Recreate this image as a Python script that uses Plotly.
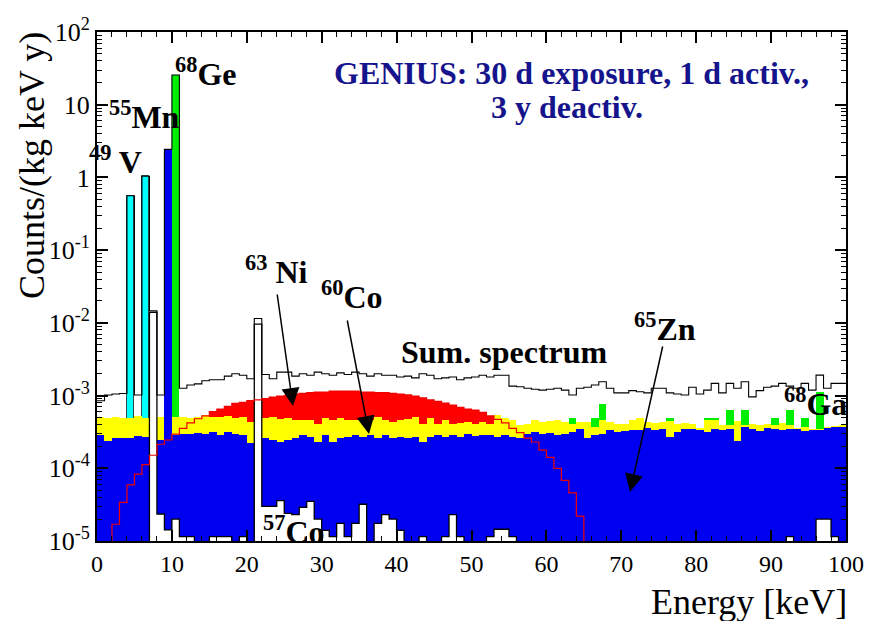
import plotly.graph_objects as go

# ---------------- data (1 keV bins, 0-100 keV) ----------------
bin_edges = list(range(0, 101))
bin_centers = [e + 0.5 for e in range(100)]

sum_spectrum = [
    8.5e-4, 1.02e-3, 1.05e-3, 1.07e-3, 0.56, 1.02e-3, 1.04, 1.47e-2, 1.02e-3, 2.43,
    25.6, 1.26e-3, 1.40e-3, 1.45e-3, 1.6e-3, 1.65e-3, 1.65e-3, 1.85e-3, 2.0e-3, 1.9e-3,
    1.7e-3, 1.15e-2, 1.95e-3, 1.7e-3, 2.1e-3, 2.1e-3, 1.85e-3, 2.0e-3, 1.9e-3, 2.1e-3,
    2.0e-3, 1.9e-3, 2.05e-3, 1.95e-3, 2.1e-3, 2.0e-3, 1.85e-3, 2.0e-3, 1.9e-3, 1.9e-3,
    1.8e-3, 1.85e-3, 1.75e-3, 2.0e-3, 1.9e-3, 1.7e-3, 1.75e-3, 1.8e-3, 1.65e-3, 1.75e-3,
    1.8e-3, 1.9e-3, 1.8e-3, 1.9e-3, 1.9e-3, 1.35e-3, 1.32e-3, 1.26e-3, 1.22e-3, 1.19e-3,
    1.22e-3, 1.26e-3, 1.19e-3, 1.02e-3, 1.26e-3, 1.30e-3, 1.40e-3, 1.55e-3, 1.26e-3, 1.09e-3,
    1.09e-3, 1.17e-3, 1.13e-3, 1.09e-3, 1.26e-3, 1.26e-3, 1.09e-3, 1.05e-3, 1.02e-3, 1.30e-3,
    1.05e-3, 1.19e-3, 1.47e-3, 1.09e-3, 1.47e-3, 1.26e-3, 1.55e-3, 9.6e-4, 1.17e-3, 1.30e-3,
    1.35e-3, 1.47e-3, 1.35e-3, 1.26e-3, 1.47e-3, 1.19e-3, 1.91e-3, 1.26e-3, 1.47e-3, 1.47e-3,
]

ge68 = [None] * 100
for b, v in [(10, 25.6), (63, 4.95e-4), (66, 4.95e-4), (67, 7.6e-4), (76, 4.95e-4),
             (81, 4.95e-4), (82, 4.95e-4), (84, 6.3e-4), (86, 6.3e-4), (90, 4.95e-4),
             (92, 6.3e-4), (94, 4.95e-4), (96, 1.13e-3)]:
    ge68[b] = v

v49_mn55 = [None] * 100
v49_mn55[4] = 0.56
v49_mn55[6] = 1.04

ni63 = [
    None, None, 1.7e-5, 3.4e-5, 5.9e-5, 8.3e-5, 1.12e-4, 1.51e-4, 2.14e-4, 2.45e-4,
    2.95e-4, 3.55e-4, 4.2e-4, 4.8e-4, 5.25e-4, 6.0e-4, 6.5e-4, 7.1e-4, 7.8e-4, 8.1e-4,
    8.5e-4, 8.7e-4, 9.1e-4, 9.5e-4, 9.8e-4, 1.0e-3, 1.05e-3, 1.07e-3, 1.10e-3, 1.12e-3,
    1.12e-3, 1.15e-3, 1.15e-3, 1.15e-3, 1.15e-3, 1.12e-3, 1.12e-3, 1.10e-3, 1.10e-3, 1.07e-3,
    1.05e-3, 1.02e-3, 9.8e-4, 9.3e-4, 8.7e-4, 8.3e-4, 7.9e-4, 7.4e-4, 6.9e-4, 6.5e-4,
    6.3e-4, 5.9e-4, 5.25e-4, 4.7e-4, 4.2e-4, 3.55e-4, 3.1e-4, 2.6e-4, 2.3e-4, 1.78e-4,
    1.41e-4, 1.0e-4, 6.8e-5, 4.6e-5, 2.2e-5, None, None, None, None, None,
] + [None] * 30

co60 = [
    5.1e-4, 4.95e-4, 5.1e-4, 4.95e-4, 4.85e-4, 5.2e-4, 4.85e-4, 5.0e-4, 5.1e-4, 5.0e-4,
    5.1e-4, 5.1e-4, 4.85e-4, 5.1e-4, 5.4e-4, 5.1e-4, 5.1e-4, 5.2e-4, 4.85e-4, 5.1e-4,
    4.4e-4, 5.0e-4, 4.85e-4, 5.1e-4, 4.7e-4, 4.85e-4, 4.6e-4, 4.6e-4, 4.6e-4, 4.1e-4,
    4.85e-4, 4.6e-4, 4.85e-4, 4.6e-4, 4.6e-4, 4.85e-4, 4.6e-4, 5.1e-4, 4.6e-4, 4.4e-4,
    4.6e-4, 4.7e-4, 5.1e-4, 4.1e-4, 4.85e-4, 4.05e-4, 4.6e-4, 4.1e-4, 4.2e-4, 4.4e-4,
    4.1e-4, 4.4e-4, 4.1e-4, 5.4e-4, 4.85e-4, 4.6e-4, 3.9e-4, 4.1e-4, 4.6e-4, 4.4e-4,
    4.5e-4, 4.6e-4, 4.4e-4, 4.1e-4, 4.4e-4, 4.4e-4, 3.7e-4, 4.6e-4, 4.4e-4, 4.1e-4,
    4.1e-4, 4.6e-4, 4.85e-4, 4.4e-4, 4.2e-4, 4.3e-4, 4.5e-4, 4.1e-4, 4.2e-4, 4.05e-4,
    3.6e-4, 4.6e-4, 4.6e-4, 3.9e-4, 3.9e-4, 4.5e-4, 4.0e-4, 4.1e-4, 3.9e-4, 4.1e-4,
    4.0e-4, 4.2e-4, 3.9e-4, 3.6e-4, 3.7e-4, 3.45e-4, 3.5e-4, 3.75e-4, 3.8e-4, 3.9e-4,
]

zn65 = [
    2.85e-4, 2.35e-4, 2.6e-4, 2.6e-4, 2.6e-4, 2.75e-4, 2.7e-4, 2.7e-4, 2.45e-4, 2.43,
    2.85e-4, 3.0e-4, 3.0e-4, 3.05e-4, 3.0e-4, 3.2e-4, 2.85e-4, 3.2e-4, 3.0e-4, 2.85e-4,
    2.25e-4, 2.6e-4, 2.6e-4, 2.45e-4, 2.3e-4, 2.45e-4, 2.6e-4, 2.85e-4, 2.7e-4, 2.3e-4,
    2.85e-4, 2.3e-4, 2.6e-4, 2.7e-4, 2.85e-4, 2.7e-4, 2.85e-4, 2.6e-4, 2.85e-4, 2.6e-4,
    2.7e-4, 2.6e-4, 2.7e-4, 2.3e-4, 2.7e-4, 2.85e-4, 2.7e-4, 2.85e-4, 2.7e-4, 3.0e-4,
    2.75e-4, 2.85e-4, 2.85e-4, 2.7e-4, 2.85e-4, 2.7e-4, 2.6e-4, 3.0e-4, 3.2e-4, 3.0e-4,
    3.1e-4, 2.85e-4, 3.0e-4, 3.2e-4, 3.5e-4, 2.6e-4, 2.85e-4, 3.0e-4, 3.35e-4, 3.2e-4,
    3.3e-4, 3.35e-4, 3.35e-4, 3.6e-4, 3.4e-4, 3.5e-4, 2.7e-4, 3.2e-4, 3.5e-4, 3.5e-4,
    3.35e-4, 3.2e-4, 3.5e-4, 3.4e-4, 3.5e-4, 2.4e-4, 3.75e-4, 3.5e-4, 3.3e-4, 3.6e-4,
    3.5e-4, 3.4e-4, 3.5e-4, 3.5e-4, 3.3e-4, 3.35e-4, 3.4e-4, 3.6e-4, 3.7e-4, 3.75e-4,
]

co57 = [
    None, None, None, None, None, None, None, 1.4e-2, 2.35e-5, 1.42e-5,
    2.0e-5, 1.15e-5, 1.15e-5, None, None, 1.15e-5, 1.15e-5, 1.15e-5, None, 1.15e-5,
    None, 9.6e-3, 3.0e-5, 3.0e-5, 3.6e-5, 2.4e-5, 2.3e-5, 2.9e-5, 3.5e-5, 2.0e-5,
    1.4e-5, 1.15e-5, 1.75e-5, 1.15e-5, 1.75e-5, 3.2e-5, None, 1.75e-5, 2.3e-5, 2.0e-5,
    1.4e-5, None, None, 1.15e-5, None, None, 1.15e-5, 2.3e-5, 1.15e-5, None,
    None, None, 1.15e-5, 1.45e-5, 1.45e-5, 1.15e-5, None, None, None, None,
] + [None] * 32 + [1.15e-5, None, None, None, 2.0e-5, 2.0e-5, 1.15e-5, None]

y_tick_vals = [1e-5, 1e-4, 1e-3, 1e-2, 1e-1, 1, 10, 100]
y_tick_text = ["10<sup>-5</sup>", "10<sup>-4</sup>", "10<sup>-3</sup>", "10<sup>-2</sup>",
               "10<sup>-1</sup>", "1", "10", "10<sup>2</sup>"]

# ---------------- figure ----------------
FONT = "Liberation Serif"
BELOW = 1e-7  # empty bins drawn below the visible axis range


def step_y(values):
    ys = [v if v is not None else BELOW for v in values]
    return ys + [ys[-1]]


fig = go.Figure()


def add_fill(values, color, line_w=None, line_c=None):
    lw = 0 if line_w is None else line_w
    fig.add_trace(go.Bar(
        x=bin_centers, y=values, width=1.0,
        marker=dict(color=color, line=dict(width=lw, color=line_c or color)),
        hoverinfo="skip", showlegend=False,
    ))


add_fill(ge68, "#00ee00")
add_fill(v49_mn55, "#00ffff", 1, "#2a4a4a")
add_fill(ni63, "#ff0000")
add_fill(co60, "#ffff00")
add_fill(zn65, "#0000f0")
add_fill(co57, "#ffffff")

# outlines
fig.add_trace(go.Scatter(x=bin_edges, y=step_y(co57), mode="lines", line_shape="hv",
                         line=dict(color="black", width=1.3), hoverinfo="skip", showlegend=False))
fig.add_trace(go.Scatter(x=bin_edges, y=step_y(ni63), mode="lines", line_shape="hv",
                         line=dict(color="#ee0000", width=1.2), hoverinfo="skip", showlegend=False))
fig.add_trace(go.Scatter(x=bin_edges, y=step_y(sum_spectrum), mode="lines", line_shape="hv",
                         line=dict(color="black", width=1.1), hoverinfo="skip", showlegend=False))

minor_y = [m * 10 ** e for e in range(-5, 2) for m in range(2, 10)]

fig.update_layout(
    width=869, height=621,
    margin=dict(l=97, r=23, t=32, b=80, autoexpand=False),
    paper_bgcolor="white", plot_bgcolor="white",
    barmode="overlay", bargap=0,
    font=dict(family=FONT, color="black"),
    xaxis=dict(range=[0, 100], tickvals=list(range(0, 101, 10)), ticks="inside", ticklen=11,
               tickwidth=1.5, tickcolor="black", showline=True, linecolor="black", linewidth=2,
               mirror="allticks", showgrid=False, zeroline=False, automargin=False,
               tickfont=dict(family=FONT, size=24, color="black"),
               minor=dict(dtick=2, ticks="inside", ticklen=5, tickwidth=1.2, tickcolor="black")),
    yaxis=dict(type="log", range=[-5, 2], tickvals=y_tick_vals, ticktext=y_tick_text,
               ticks="inside", ticklen=11, tickwidth=1.5, tickcolor="black",
               showline=True, linecolor="black", linewidth=2, mirror="allticks",
               showgrid=False, zeroline=False, automargin=False,
               tickfont=dict(family=FONT, size=26, color="black"),
               minor=dict(tickvals=minor_y, ticks="inside", ticklen=5, tickwidth=1.2,
                          tickcolor="black")),
)

# plot-area corners in window pixels
X0, X1, Y0, Y1 = 97.0, 846.0, 32.0, 541.0


def px(x):
    return (x - X0) / (X1 - X0)


def py(y):
    return (Y1 - y) / (Y1 - Y0)


def label(text, x, y, size=32, color="black", xanchor="left", yanchor="middle", bold=True):
    t = f"<b>{text}</b>" if bold else text
    fig.add_annotation(text=t, x=px(x), y=py(y), xref="paper", yref="paper",
                       xanchor=xanchor, yanchor=yanchor, showarrow=False,
                       font=dict(family=FONT, size=size, color=color))


label("GENIUS: 30 d exposure, 1 d activ.,", 571, 73, color="#15148c", xanchor="center")
label("3 y deactiv.", 567, 107, color="#15148c", xanchor="center")
label("<sup>68</sup>Ge", 173, 72)
label("<sup>55</sup>Mn", 107, 115)
label("<sup>49</sup> V", 87, 160)
label("<sup>63</sup> Ni", 243, 270)
label("<sup>60</sup>Co", 319, 295)
label("Sum. spectrum", 399, 352)
label("<sup>65</sup>Zn", 632, 327)
label("<sup>68</sup>Ga", 782, 402)
label("<sup>57</sup>Co", 261, 530)

# axis titles
fig.add_annotation(text="Counts/(kg keV y)", x=px(32), y=py(166), xref="paper", yref="paper",
                   textangle=-90, showarrow=False, xanchor="center", yanchor="middle",
                   font=dict(family=FONT, size=36, color="black"))
fig.add_annotation(text="Energy [keV]", x=px(849), y=py(602), xref="paper", yref="paper",
                   showarrow=False, xanchor="right", yanchor="middle",
                   font=dict(family=FONT, size=36, color="black"))

# arrows (tail -> tip, pixel positions)
for tail, tip in [((277, 293), (293, 406)), ((347, 319), (369, 434)), ((663, 345), (630, 492))]:
    fig.add_annotation(x=px(tip[0]), y=py(tip[1]), xref="paper", yref="paper",
                       ax=tail[0] - tip[0], ay=tail[1] - tip[1], axref="pixel", ayref="pixel",
                       text="", showarrow=True, arrowhead=2, arrowsize=2.4, arrowwidth=1.5,
                       arrowcolor="black", standoff=0)

# remove the browser's default 8 px page margin so the 869x621 figure fills the window
fig.write_html("out.html", config={"displayModeBar": False},
               post_script="document.body.style.margin='0';document.body.style.overflow='hidden';")
